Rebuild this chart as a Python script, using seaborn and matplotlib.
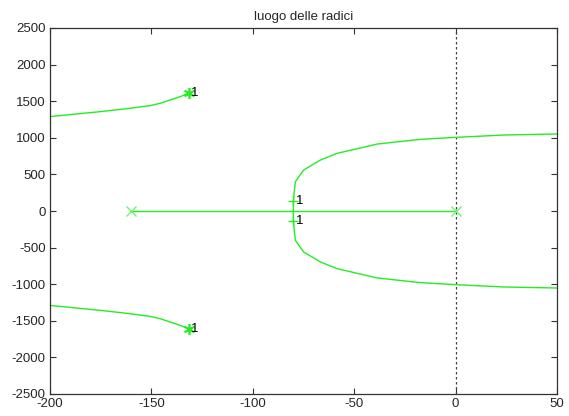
import matplotlib
matplotlib.use("Agg")

import matplotlib.pyplot as plt
import numpy as np
import pandas as pd
import seaborn as sns

# branch going off to the left (upper half; lower half is the mirror)
LEFT_X = [-200, -175.3, -160.5, -150.6, -145.7, -135.8, -131.7]
LEFT_Y = [1290, 1357, 1403, 1440, 1471, 1562, 1610]

# branch leaving the real axis at the breakaway point
RIGHT_X = [-80, -80, -79.6, -79, -76.5, -74.9, -66.6, -58.4, -38.6, -17.2, 0, 23.7, 50]
RIGHT_Y = [0, 130, 250, 400, 500, 560, 697, 788, 915, 979, 1006, 1038, 1052]

REAL_X = [-160, 0]
POLES_X = [-160, 0]
GAIN_STAR = (-131.7, 1610)
GAIN_PLUS = (-80, 130)
GAIN_LABEL = "1"

X_TICKS = [-200, -150, -100, -50, 0, 50]
Y_TICKS = list(range(-2500, 2501, 500))

GREEN = "#22ee22"
LIGHT = "#77f077"


def main():
    sns.set_theme(style="white")
    plt.rcParams["font.family"] = ["Liberation Sans", "DejaVu Sans"]
    plt.rcParams["axes.unicode_minus"] = False

    fig, ax = plt.subplots(figsize=(5.69, 4.16), dpi=100)
    fig.subplots_adjust(left=50 / 569, right=557 / 569, top=1 - 28 / 416, bottom=1 - 394 / 416)

    for sign in (1, -1):
        left = pd.DataFrame({"x": LEFT_X, "y": np.array(LEFT_Y) * sign})
        right = pd.DataFrame({"x": RIGHT_X, "y": np.array(RIGHT_Y) * sign})
        sns.lineplot(data=left, x="x", y="y", sort=False, estimator=None, color=GREEN, linewidth=1.0, ax=ax)
        sns.lineplot(data=right, x="x", y="y", sort=False, estimator=None, color=GREEN, linewidth=1.0, ax=ax)

    sns.lineplot(x=REAL_X, y=[0, 0], color=GREEN, linewidth=1.0, ax=ax)

    ax.axvline(0, color="#444444", linestyle=(0, (2, 2)), linewidth=0.9, zorder=1)

    ax.plot(POLES_X, [0, 0], linestyle="none", marker="x", markersize=7, color=LIGHT, markeredgewidth=1.0)
    sx, sy = GAIN_STAR
    ax.plot([sx, sx], [sy, -sy], linestyle="none", marker=(6, 2, 0), markersize=8, color=GREEN,
            markeredgewidth=1.2)
    px, py = GAIN_PLUS
    ax.plot([px, px], [py, -py], linestyle="none", marker="+", markersize=7, color=GREEN, markeredgewidth=1.0)

    for x, y in [(sx, sy), (sx, -sy), (px, py), (px, -py)]:
        ax.text(x + 1.2, y, GAIN_LABEL, fontsize=9.5, ha="left", va="center", color="black")

    ax.set_xlim(-200, 50)
    ax.set_ylim(-2500, 2500)
    ax.set_xticks(X_TICKS)
    ax.set_yticks(Y_TICKS)
    ax.set_xlabel("")
    ax.set_ylabel("")
    ax.set_title("luogo delle radici", fontsize=9.5, pad=6)
    ax.tick_params(direction="in", length=4, width=0.8, labelsize=9.5, top=True, right=True,
                   bottom=True, left=True, color="#333333", pad=3)
    for spine in ax.spines.values():
        spine.set_color("#333333")
        spine.set_linewidth(0.9)

    fig.savefig("out.png", dpi=100)


if __name__ == "__main__":
    main()
